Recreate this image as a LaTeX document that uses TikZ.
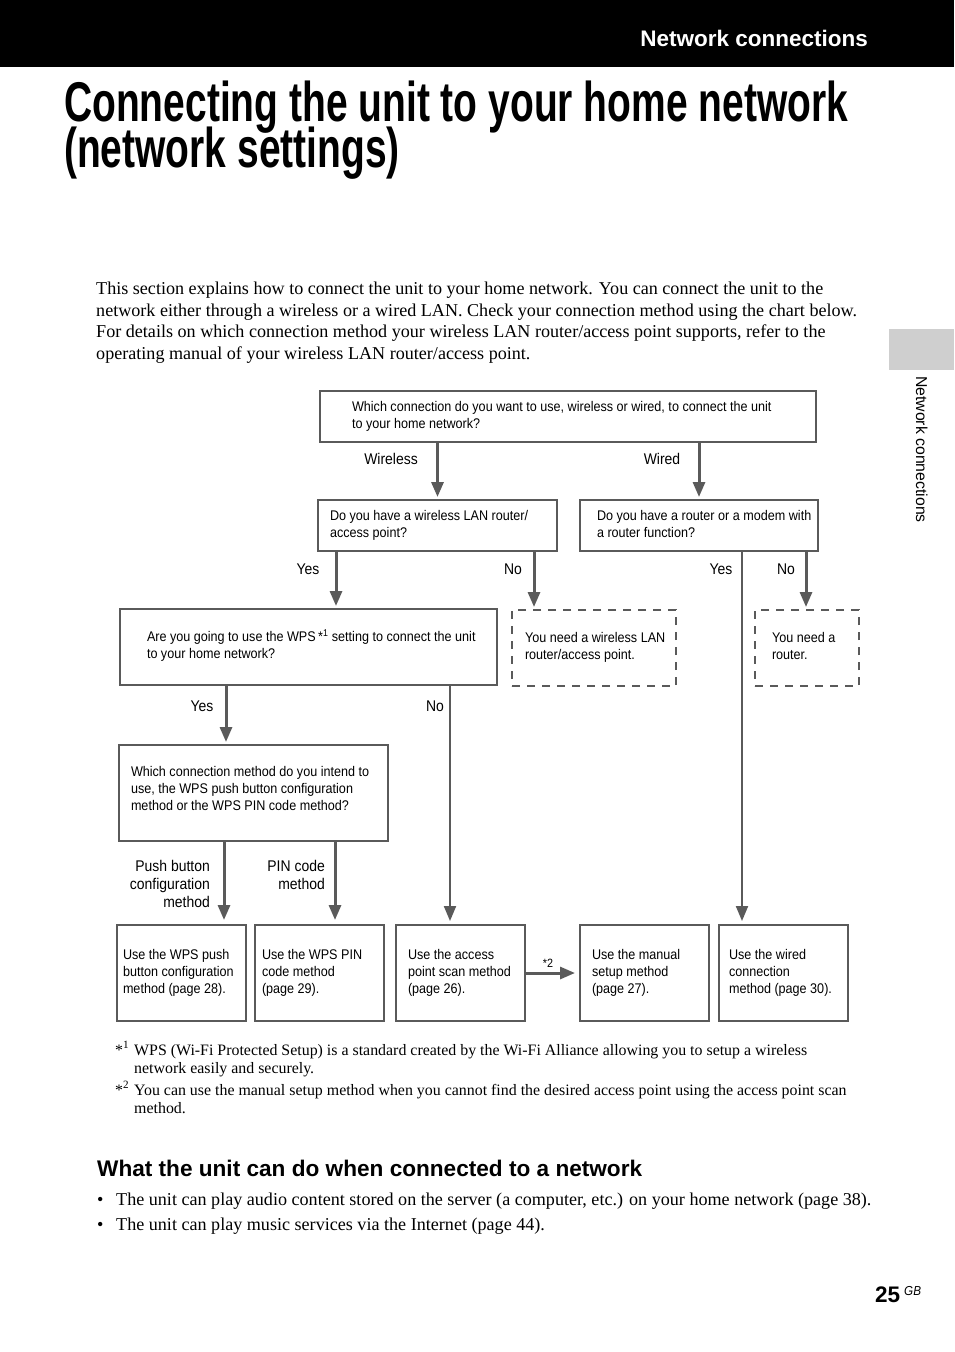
\documentclass[tikz,border=0pt]{standalone}
\usepackage{fontspec}
\setmainfont{Liberation Serif}
\newfontfamily\sansfont{Liberation Sans}
\newfontfamily\flowfont{Liberation Sans}[FakeStretch=0.9]
\newfontfamily\titlefont{Liberation Sans}[FakeStretch=0.696]
\usetikzlibrary{arrows.meta}
\definecolor{flowgray}{HTML}{5A5A5A}
\definecolor{tabgray}{HTML}{CFCFCF}
\newcommand{\flowlines}[3]{\makebox[#1pt][l]{\hspace*{#2pt}\begin{tabular}{@{}l@{}}#3\end{tabular}}}

\begin{document}
\begin{tikzpicture}[x=1pt,y=-1pt,
  qbox/.style={draw=flowgray,line width=2.5pt,inner sep=0pt,outer sep=0pt,font=\flowfont\fontsize{14}{17}\selectfont},
  nbox/.style={qbox,dash pattern=on 8pt off 7pt},
  lbl/.style={font=\flowfont\fontsize{15.5}{18}\selectfont,inner sep=0pt,anchor=base},
  arr/.style={draw=flowgray,line width=3pt,-{Triangle[width=12pt,length=15pt]},shorten >=3pt},
  longarr/.style={arr,line width=2pt},
  body/.style={font=\fontsize{18.1}{21.7}\selectfont,inner sep=0pt,anchor=base west},
  fnote/.style={font=\fontsize{15.9}{18}\selectfont,inner sep=0pt,anchor=base west}]
\useasboundingbox (0,0) rectangle (954,1352);
\fill[white] (0,0) rectangle (954,1352);
\fill[black] (0,0) rectangle (954,67);
\node[font=\sansfont\bfseries\fontsize{22.5}{27}\selectfont,text=white,anchor=base east,inner sep=0pt] (head) at (868,46) {Network connections};
\node[font=\titlefont\bfseries\fontsize{56}{46}\selectfont,anchor=base west,inner sep=0pt,text depth=0pt] (title1) at (64,121) {Connecting the unit to your home network};
\node[font=\titlefont\bfseries\fontsize{56}{46}\selectfont,anchor=base west,inner sep=0pt] (title2) at (64,167) {(network settings)};
\fill[tabgray] (889,329) rectangle (954,370);
\node[font=\sansfont\fontsize{15.8}{18}\selectfont,rotate=-90,anchor=base west,inner sep=0pt] (tab) at (916,376) {Network connections};
\node[body] (intro1) at (96,294) {This section explains how to connect the unit to your home network. You can connect the unit to the};
\node[body] (intro2) at (96,316) {network either through a wireless or a wired LAN. Check your connection method using the chart below.};
\node[body] (intro3) at (96,337) {For details on which connection method your wireless LAN router/access point supports, refer to the};
\node[body] (intro4) at (96,359) {operating manual of your wireless LAN router/access point.};
\node[qbox,minimum height=51] (conn) at (568,416.5) {\flowlines{496}{32}{Which connection do you want to use, wireless or wired, to connect the unit\\to your home network?}};
\node[qbox,minimum height=51] (wlan) at (437.5,525.5) {\flowlines{239}{12}{Do you have a wireless LAN router/\\access point?}};
\node[qbox,minimum height=51] (router) at (699,525.5) {\flowlines{238}{17}{Do you have a router or a modem with\\a router function?}};
\node[qbox,minimum height=76] (wps) at (308.5,647) {\flowlines{377}{27}{Are you going to use the WPS\,*\textsuperscript{1} setting to connect the unit\\to your home network?}};
\node[nbox,minimum height=76] (needap) at (594,648) {\flowlines{164}{13}{You need a wireless LAN\\router/access point.}};
\node[nbox,minimum height=76] (needrt) at (807,648) {\flowlines{104}{17}{You need a\\router.}};
\node[qbox,minimum height=96] (wpsway) at (253.5,793) {\flowlines{269}{12}{Which connection method do you intend to\\use, the WPS push button configuration\\method or the WPS PIN code method?\\[6pt]}};
\node[qbox,minimum height=96] (pushbox) at (181.5,973) {\flowlines{129}{6}{Use the WPS push\\button configuration\\method (page 28).}};
\node[qbox,minimum height=96] (pinbox) at (319.5,973) {\flowlines{129}{7}{Use the WPS PIN\\code method\\(page 29).}};
\node[qbox,minimum height=96] (scanbox) at (460.5,973) {\flowlines{129}{12}{Use the access\\point scan method\\(page 26).}};
\node[qbox,minimum height=96] (manualbox) at (644.5,973) {\flowlines{129}{12}{Use the manual\\setup method\\(page 27).}};
\node[qbox,minimum height=96] (wiredbox) at (783.5,973) {\flowlines{129}{10}{Use the wired\\connection\\method (page 30).}};
\draw[arr] (conn.south -| wlan.north) -- (wlan.north);
\draw[arr] (conn.south -| router.north) -- (router.north);
\draw[arr] (336,0 |- wlan.south) -- (336,0 |- wps.north);
\draw[arr] (534,0 |- wlan.south) -- (534,0 |- needap.north);
\draw[longarr,shorten >=4pt] (742,0 |- router.south) -- (742,0 |- wiredbox.north);
\draw[arr] (806,0 |- router.south) -- (806,0 |- needrt.north);
\draw[arr] (226,0 |- wps.south) -- (226,0 |- wpsway.north);
\draw[longarr,shorten >=4pt] (450,0 |- wps.south) -- (450,0 |- scanbox.north);
\draw[arr,shorten >=5pt] (224,0 |- wpsway.south) -- (224,0 |- pushbox.north);
\draw[arr,shorten >=5pt] (335,0 |- wpsway.south) -- (335,0 |- pinbox.north);
\draw[arr,shorten >=5pt] (scanbox.east) -- (manualbox.west);
\node[lbl] (lwireless) at (391,464) {Wireless};
\node[lbl] (lwired) at (662,464) {Wired};
\node[lbl] (lyes1) at (308,574) {Yes};
\node[lbl] (lno1) at (513,574) {No};
\node[lbl] (lyes2) at (721,574) {Yes};
\node[lbl] (lno2) at (786,574) {No};
\node[lbl] (lyes3) at (202,711) {Yes};
\node[lbl] (lno3) at (435,711) {No};
\node[lbl,anchor=east,align=right] (lpush) at (210,884) {Push button\\configuration\\method};
\node[lbl,anchor=east,align=right] (lpin) at (325,875) {PIN code\\method};
\node[lbl,font=\flowfont\fontsize{12}{14}\selectfont] (lstar) at (548,967) {*2};
\node[fnote] (mark1) at (115,1055) {*\textsuperscript{1}};
\node[fnote] (note1) at (134,1055) {WPS (Wi-Fi Protected Setup) is a standard created by the Wi-Fi Alliance allowing you to setup a wireless};
\node[fnote] (note1b) at (134,1073) {network easily and securely.};
\node[fnote] (mark2) at (115,1095) {*\textsuperscript{2}};
\node[fnote] (note2) at (134,1095) {You can use the manual setup method when you cannot find the desired access point using the access point scan};
\node[fnote] (note2b) at (134,1113) {method.};
\node[font=\sansfont\bfseries\fontsize{22.6}{27}\selectfont,anchor=base west,inner sep=0pt] (sub) at (97,1176) {What the unit can do when connected to a network};
\node[body] (dot1) at (97,1205) {\textbullet};
\node[body] (item1) at (116,1205) {The unit can play audio content stored on the server (a computer, etc.) on your home network (page 38).};
\node[body] (dot2) at (97,1230) {\textbullet};
\node[body] (item2) at (116,1230) {The unit can play music services via the Internet (page 44).};
\node[font=\sansfont\bfseries\fontsize{22.5}{27}\selectfont,anchor=base west,inner sep=0pt] (pnum) at (875,1302) {25};
\node[font=\flowfont\itshape\fontsize{13}{15}\selectfont,anchor=base west,inner sep=0pt] (pgb) at (904,1295) {GB};
\end{tikzpicture}
\end{document}
